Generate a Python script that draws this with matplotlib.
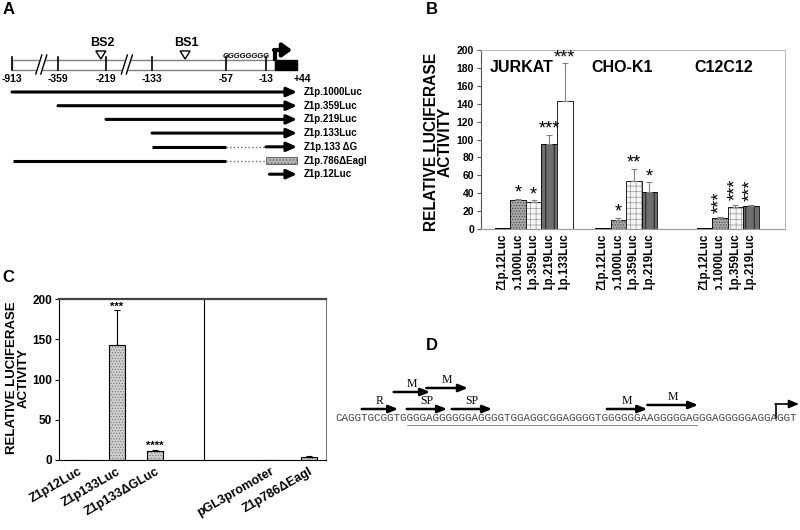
import numpy as np
import matplotlib
matplotlib.use('Agg')
import matplotlib.pyplot as plt
from matplotlib.patches import Rectangle, Polygon
from matplotlib.transforms import Bbox, TransformedBbox

plt.rcParams['font.family'] = ['Liberation Sans', 'DejaVu Sans']
plt.rcParams['font.weight'] = 'bold'
plt.rcParams['axes.labelweight'] = 'bold'
plt.rcParams['hatch.linewidth'] = 0.5

# ---------------- data ----------------
# panel A : promoter map (bp relative to TSS) and reporter constructs
map_ticks = [-913, -359, -219, -133, -57, -13]
site_names = ['BS2', 'BS1']
site_bp = [-234, -99]
g_tract = (-57, -13)
construct_names = ['Z1p.1000Luc', 'Z1p.359Luc', 'Z1p.219Luc', 'Z1p.133Luc',
                   'Z1p.133 \u0394G', 'Z1p.786\u0394EagI', 'Z1p.12Luc']
construct_start = [-913, -359, -219, -133, -133, -900, -8]
construct_end = 44
construct_deletion = [None, None, None, None, (-57, -13), (-57, -13), None]
construct_box = [False, False, False, False, False, True, False]

# panel B : luciferase activity per cell line
b_groups = ['JURKAT', 'CHO-K1', 'C12C12']
b_names = [['Z1p.12Luc', 'Z1p.1000Luc', 'Z1p.359Luc', 'Z1p.219Luc', 'Z1p.133Luc'],
           ['Z1p.12Luc', 'Z1p.1000Luc', 'Z1p.359Luc', 'Z1p.219Luc'],
           ['Z1p.12Luc', 'Z1p.1000Luc', 'Z1p.359Luc', 'Z1p.219Luc']]
b_values = [[0.6, 32, 30, 95, 143],
            [0.6, 10, 54, 41],
            [0.6, 12, 25, 25.5]]
b_errors = [[0, 2, 2, 10, 42],
            [0, 2.5, 13, 11],
            [0, 1, 2, 1]]
b_stars = [['', '*', '*', '***', '***'],
           ['', '*', '**', '*'],
           ['', '***', '***', '***']]

# panel C
c_names = ['Z1p12Luc', 'Z1p133Luc', 'Z1p133\u0394GLuc', 'pGL3promoter', 'Z1p786\u0394EagI']
c_values = [0.6, 143, 11, 0.6, 4]
c_errors = [0, 43, 2, 0, 1.5]
c_stars = ['', '***', '****', '', '']

# panel D : sequence and motifs (character indices)
seq = 'CAGGTGCGGTGGGGAGGGGGGAGGGGTGGAGGCGGAGGGGTGGGGGGAAGGGGGAGGGAGGGGGAGGAGGT'
underline = (11, 55.5)
motif_labels = ['R', 'M', 'M', 'SP', 'SP', 'M', 'M']
motif_start = [4.1, 9.0, 14.0, 11.0, 17.9, 41.7, 47.9]
motif_end = [9.7, 14.6, 20.4, 17.2, 24.1, 47.9, 55.7]
motif_level = [0, 2, 3, 0, 0, 0, 1]
tss_char = 67.6

# ---------------- figure ----------------
fig = plt.figure(figsize=(8, 5.3), dpi=100)
ov = fig.add_axes([0, 0, 1, 1])
ov.set_xlim(0, 800)
ov.set_ylim(530, 0)
ov.axis('off')

for letter, (lx, ly) in zip('ABCD', [(9, 10), (432, 10), (8, 277), (432, 345)]):
    ov.text(lx, ly, letter, fontsize=12, ha='center', va='center')

# ---- A
anchor_bp = [-913, -359, -219, -133, -57, -13, 0, 44]
anchor_x = [12, 58, 106, 152, 226, 266, 275, 297]


def bx(p):
    return np.interp(p, anchor_bp, anchor_x)


ov.add_patch(Rectangle((bx(-913), 60), bx(0) - bx(-913), 10, fc='white', ec='#808080', lw=1))
ov.add_patch(Rectangle((bx(0), 60), bx(44) - bx(0), 10, fc='black', ec='black'))
for p in map_ticks:
    ov.plot([bx(p)] * 2, [57, 70], color='k', lw=1.2)
    ov.text(bx(p), 79, str(p), ha='center', va='center', fontsize=7.5)
ov.text(bx(44) + 5, 79, '+44', ha='center', va='center', fontsize=7.5)
for p in [-560, -180]:
    x = bx(p)
    ov.add_patch(Polygon([(x - 5.5, 74), (x - 0.5, 55), (x + 5.5, 55), (x + 0.5, 74)],
                         fc='white', ec='none', zorder=3))
    for dx in (-2.5, 2.5):
        ov.plot([x + dx - 3, x + dx + 3], [74, 55], color='k', lw=1, zorder=4)
for name, p in zip(site_names, site_bp):
    x = bx(p)
    ov.add_patch(Polygon([(x - 5, 51), (x + 5, 51), (x, 59)], fc='white', ec='k', lw=1))
    ov.text(x + 1, 43, name, ha='center', va='center', fontsize=9)
ov.text((bx(g_tract[0]) + bx(g_tract[1])) / 2, 57, 'G' * 8, ha='center', va='center',
        fontsize=5.5, style='italic')
ov.plot([bx(0), bx(0)], [61, 50], color='k', lw=3, solid_capstyle='butt')
ov.annotate('', xy=(bx(0) + 17, 50), xytext=(bx(0) - 1, 50),
            arrowprops=dict(arrowstyle='-|>,head_width=0.4,head_length=0.55', lw=3,
                            color='k', shrinkA=0, shrinkB=0))

arrow_style = dict(arrowstyle='-|>,head_width=0.27,head_length=0.6', lw=2.2, color='k',
                   shrinkA=0, shrinkB=0)
for i, name in enumerate(construct_names):
    y = 92 + 13.7 * i
    x0 = bx(construct_start[i])
    if construct_deletion[i] is not None:
        d0, d1 = construct_deletion[i]
        ov.plot([x0, bx(d0)], [y, y], color='k', lw=2.2, solid_capstyle='butt')
        ov.plot([bx(d0), bx(d1)], [y, y], color='#666666', lw=1, ls=':')
        x0 = bx(d1)
    if construct_box[i]:
        ov.add_patch(Rectangle((x0, y - 3.5), bx(construct_end) - x0, 7, fc='#b5b5b5',
                               ec='#555555', lw=0.6, hatch='.....'))
    else:
        ov.annotate('', xy=(bx(construct_end), y), xytext=(x0, y), arrowprops=arrow_style)
    ov.text(304, y, name, ha='left', va='center', fontsize=7)

# ---- D
seq_x0, char_w, seq_y = 335, 6.52, 418


def cx(c):
    return seq_x0 + c * char_w


ov.text(seq_x0, seq_y, seq, family='Liberation Mono', fontweight='normal',
        fontsize=char_w / 0.6 * 0.72, color='#444444', ha='left', va='center')
ov.plot([cx(underline[0]), cx(underline[1])], [seq_y + 7, seq_y + 7], color='#777777', lw=0.6)
level_y = [409, 405, 392, 388]
motif_arrow = dict(arrowstyle='-|>,head_width=0.22,head_length=0.55', lw=1.8,
                   color='k', shrinkA=0, shrinkB=0)
for lab, s, e, lv in zip(motif_labels, motif_start, motif_end, motif_level):
    y = level_y[lv]
    ov.annotate('', xy=(cx(e), y), xytext=(cx(s), y), arrowprops=motif_arrow)
    ov.text((cx(s) + cx(e)) / 2, y - 8, lab, ha='center', va='center', fontsize=8.5,
            family=['Liberation Serif', 'DejaVu Serif'], fontweight='normal')
tx = cx(tss_char)
ov.plot([tx, tx], [seq_y, 404], color='k', lw=1.2)
ov.annotate('', xy=(799, 404), xytext=(tx - 0.6, 404),
            arrowprops=dict(arrowstyle='-|>,head_width=0.25,head_length=0.6', lw=1.2,
                            color='k', shrinkA=0, shrinkB=0))

# ---- B
bar_style = {
    'Z1p.12Luc': ('black', None, 'black'),
    'Z1p.1000Luc': ('#a8a8a8', '......', '#444444'),
    'Z1p.359Luc': ('#f6f6f6', '+++', '#9a9a9a'),
    'Z1p.219Luc': ('#6e6e6e', '||', 'black'),
    'Z1p.133Luc': ('white', None, 'white'),
}
ax_b = fig.add_axes([481 / 800, 1 - 229 / 530, 304 / 800, 179 / 530])
group_x0 = [0, 6.45, 13.0]
tick_x, tick_lab = [], []
for g, x0 in enumerate(group_x0):
    xs = x0 + np.arange(len(b_names[g]))
    for x, name, v, e, st in zip(xs, b_names[g], b_values[g], b_errors[g], b_stars[g]):
        fc, hatch, hc = bar_style[name]
        ax_b.bar(x, v, width=1, color=fc, hatch=hatch, edgecolor=hc, lw=0)
        ax_b.bar(x, v, width=1, fill=False, edgecolor='k', lw=0.6)
        if e > 0:
            ax_b.errorbar(x, v, yerr=[[0], [e]], fmt='none', ecolor='#808080',
                          elinewidth=0.8, capsize=2, capthick=0.8)
        if st:
            if g == 2:
                ax_b.text(x, v + e + 5, st, ha='center', va='bottom', rotation=90,
                          fontsize=13, fontweight='normal')
            else:
                ax_b.text(x, v + e - 3, st, ha='center', va='bottom', fontsize=13,
                          fontweight='normal')
        tick_x.append(x)
        tick_lab.append(name)
    ax_b.text(x0 + 1.25, 181, b_groups[g], ha='center', va='center', fontsize=11.5,
              fontweight='bold')
ax_b.set_xlim(-1.4, 18.2)
ax_b.set_ylim(0, 200)
ax_b.set_yticks(np.arange(0, 201, 20))
ax_b.set_xticks(tick_x)
ax_b.set_xticklabels(tick_lab, rotation=90, fontsize=8.3, fontweight='bold')
plt.setp(ax_b.get_yticklabels(), fontweight='bold')
ax_b.tick_params(axis='x', length=0, pad=3)
ax_b.tick_params(axis='y', labelsize=7.5, length=3, color='#555555', pad=2)
for side, col in [('left', '#555555'), ('bottom', '#999999'), ('top', '#bbbbbb'), ('right', '#bbbbbb')]:
    ax_b.spines[side].set_color(col)
    ax_b.spines[side].set_linewidth(0.8)
ax_b.set_ylabel('RELATIVE LUCIFERASE\nACTIVITY', fontsize=11.2, linespacing=0.95,
                fontweight='bold')
ax_b.yaxis.set_label_coords(-0.092, 0.489)
clip = TransformedBbox(Bbox([[0, 1 - 290 / 530], [1, 1]]), fig.transFigure)
for lbl in ax_b.get_xticklabels():
    lbl.set_clip_box(clip)
    lbl.set_clip_on(True)

# ---- C
ax_c = fig.add_axes([59 / 800, 1 - 460 / 530, 267 / 800, 161 / 530])
c_pos = [0, 1, 2, 5, 6]
ax_c.bar(c_pos, c_values, width=0.42, color='#cfcfcf', hatch='......', edgecolor='#777777', lw=0)
ax_c.bar(c_pos, c_values, width=0.42, fill=False, edgecolor='k', lw=0.8)
for x, v, e, st in zip(c_pos, c_values, c_errors, c_stars):
    if e > 0:
        ax_c.errorbar(x, v, yerr=[[0], [e]], fmt='none', ecolor='k', elinewidth=0.8,
                      capsize=2, capthick=0.8)
    if st:
        ax_c.text(x, v + e - 2, st, ha='center', va='bottom', fontsize=8, fontweight='bold')
ax_c.axvline(3.27, color='k', lw=0.8)
ax_c.set_xlim(-0.5, 6.45)
ax_c.set_ylim(0, 200)
ax_c.set_yticks([0, 50, 100, 150, 200])
ax_c.set_xticks(c_pos)
ax_c.set_xticklabels(c_names, rotation=30, ha='right', rotation_mode='anchor', fontsize=9,
                     fontweight='bold')
plt.setp(ax_c.get_yticklabels(), fontweight='bold')
ax_c.tick_params(axis='x', length=0, pad=4)
ax_c.tick_params(axis='y', labelsize=8.5, length=3, pad=2)
ax_c.spines['top'].set_color('#444444')
ax_c.spines['top'].set_linewidth(1.6)
ax_c.spines['right'].set_color('#777777')
ax_c.spines['left'].set_linewidth(0.8)
ax_c.spines['bottom'].set_linewidth(0.8)
ax_c.set_ylabel('RELATIVE LUCIFERASE\nACTIVITY', fontsize=9.5, linespacing=0.95,
                fontweight='bold')
ax_c.yaxis.set_label_coords(-0.109, 0.51)

fig.savefig('out.png', dpi=100)
